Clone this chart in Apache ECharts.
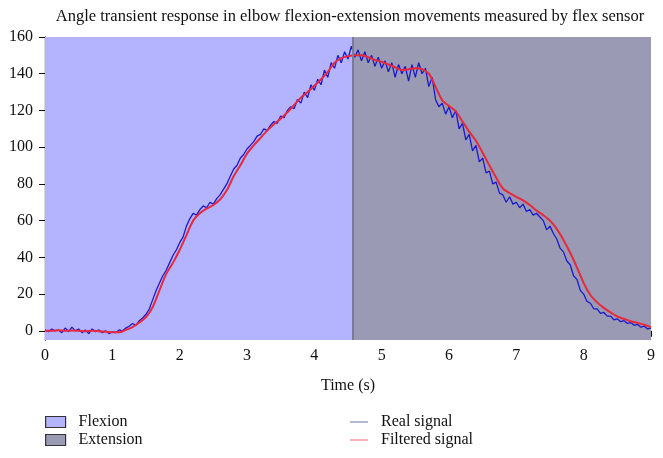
<!DOCTYPE html>
<html>
<head>
<meta charset="utf-8">
<script src="https://cdn.jsdelivr.net/npm/echarts@6/dist/echarts.min.js"></script>
<style>html,body{margin:0;padding:0;background:#fff}#c{width:663px;height:458px}</style>
</head>
<body>
<div id="c"></div>
<script>
var titleText = 'Angle transient response in elbow flexion-extension movements measured by flex sensor';
var xTicks = [0,1,2,3,4,5,6,7,8,9];
var yTicks = [0,20,40,60,80,100,120,140,160];
var phaseNames = ['Flexion','Extension'];
var phaseBounds = [[0,4.57],[4.57,9]];
var realStep = 0.05;
var realSignal = [
  0.5,-0.5,1,0,0.5,-1,1.5,-0.5,2,0, 1,-1,0.5,-1.5,1,-0.5,0.5,-1,0,-1.5,
  -0.5,-1,0.5,0,1.5,2.5,4,3,5.5,7, 9,12,17,22,26,30,33,37,41,44,
  48,51,57,61,64,63,66,68,67,70, 69,72,74,77,80,84,88,90,94,96,
  99,101,103,106,107,110,109,112,114,113, 117,116,120,122,121,126,124,130,127,134,
  131,137,134,142,138,146,143,150,146,152, 148,155,149,153,147,152,146,150,144,149,
  143,147,141,146,138,145,140,144,136,145, 138,146,140,143,133,138,126,122,124,118,
  122,116,120,110,113,104,107,98,101,92, 94,86,87,80,81,75,74,70,73,69,
  70,67,69,65,66,63,64,62,60,55, 57,53,50,45,43,38,36,30,28,22,
  20,16,15,12,12,9.5,10,8,8,6, 6.5,5,5.5,4,4.5,3,3.5,2,2.5,1,
  1.5
];
var filtStep = 0.1;
var filteredSignal = [
  0,0,0.3,0,0.2,0,-0.3,0,-0.2,-0.5,
  -0.8,-0.8,0.5,2,4.5,7.5,13,22,31,37,
  44,52,60,64,66.5,68.5,71.5,76.5,84,90,
  96.5,101,105,109,112.5,115.5,119,123,127,130,
  133.5,137,141,146,148.5,149.5,150,150,149,147.5,
  146.5,145,143.5,142,142.5,143,142.5,140,133,125.5,
  122.5,119.5,114,108.5,103.5,97,90,83.5,77.5,75,
  73,71,68.5,65.5,63,60,55.5,49.5,42.5,34.5,
  26,19.5,15.5,12.5,10,7.8,6.5,5.2,4.3,3.3,
  2
];

var colFlex = '#b3b3fe', colExt = '#9a9ab4';
var realData = realSignal.map(function(v,i){ return [+(i*realStep).toFixed(3), v]; });
var filtData = filteredSignal.map(function(v,i){ return [+(i*filtStep).toFixed(3), v]; });
var serif = 'Liberation Serif';

var chart = echarts.init(document.getElementById('c'), null, {renderer:'canvas'});
chart.setOption({
  animation:false,
  textStyle:{fontFamily:serif},
  title:{text:titleText,left:345,textAlign:'center',top:3,
    textStyle:{fontFamily:serif,fontSize:16.5,fontWeight:'normal',color:'#111'}},
  grid:{left:45,right:12,top:37,bottom:118},
  legend:[
    {orient:'vertical',left:40,top:409,itemWidth:20,itemHeight:11,itemGap:2,icon:'rect',
     textStyle:{fontFamily:serif,fontSize:16,color:'#111',padding:[0,0,0,8]},
     data:[
      {name:phaseNames[0],itemStyle:{color:colFlex,borderColor:'#333',borderWidth:1.2}},
      {name:phaseNames[1],itemStyle:{color:colExt,borderColor:'#333',borderWidth:1.2}}
     ]},
    {orient:'vertical',left:345,top:409,itemWidth:18,itemHeight:11,itemGap:2,
     icon:'path://M0,5 L18,5 L18,6 L0,6 Z',
     textStyle:{fontFamily:serif,fontSize:16,color:'#111',padding:[0,0,0,8]},
     data:[
      {name:'Real signal',itemStyle:{color:'#6677aa'}},
      {name:'Filtered signal',itemStyle:{color:'#ee6677'}}
     ]}
  ],
  xAxis:[
    {type:'value',min:0,max:9,interval:1,position:'bottom',
     axisLine:{lineStyle:{color:'#111',width:1.2}},
     axisTick:{length:6,lineStyle:{color:'#111'}},
     axisLabel:{fontFamily:serif,fontSize:16,color:'#111',margin:8,
       customValues:xTicks},
     splitLine:{show:false},
     name:'Time (s)',nameLocation:'middle',nameGap:38,
     nameTextStyle:{fontFamily:serif,fontSize:16,color:'#111'}},
    {type:'value',min:0,max:9,position:'top',
     axisLine:{lineStyle:{color:'#bbbbbb',width:1}},
     axisTick:{show:false},axisLabel:{show:false},splitLine:{show:false}}
  ],
  yAxis:[
    {type:'value',min:-5,max:160,
     axisLine:{show:true,lineStyle:{color:'#111',width:1.2}},
     axisTick:{show:true,length:6,customValues:yTicks,lineStyle:{color:'#111'}},
     axisLabel:{fontFamily:serif,fontSize:16,color:'#111',margin:12,customValues:yTicks},
     splitLine:{show:false}},
    {type:'value',min:-5,max:160,position:'right',
     axisLine:{show:true,lineStyle:{color:'#666677',width:1.2}},
     axisTick:{show:true,inside:false,length:3,customValues:yTicks,lineStyle:{color:'#666677'}},
     axisLabel:{show:false},splitLine:{show:false}}
  ],
  series:[
    {name:phaseNames[0],type:'line',data:[],itemStyle:{color:colFlex},
     markArea:{silent:true,itemStyle:{color:colFlex,opacity:1},
       data:[[{xAxis:phaseBounds[0][0]},{xAxis:phaseBounds[0][1]}]]}},
    {name:phaseNames[1],type:'line',data:[],itemStyle:{color:colExt},
     markArea:{silent:true,itemStyle:{color:colExt,opacity:1},
       data:[[{xAxis:phaseBounds[1][0]},{xAxis:phaseBounds[1][1]}]]},
     markLine:{silent:true,symbol:'none',label:{show:false},
       lineStyle:{color:'#7a7a9c',width:2,type:'solid'},
       data:[{xAxis:phaseBounds[1][0]}]}},
    {name:'Real signal',type:'line',data:realData,showSymbol:false,symbol:'none',
     lineStyle:{color:'#1a1acc',width:1.3},itemStyle:{color:'#1a1acc'},z:3},
    {name:'Filtered signal',type:'line',data:filtData,showSymbol:false,symbol:'none',smooth:0.3,
     lineStyle:{color:'#e8283c',width:2},itemStyle:{color:'#e8283c'},z:4}
  ]
});
</script>
</body>
</html>
